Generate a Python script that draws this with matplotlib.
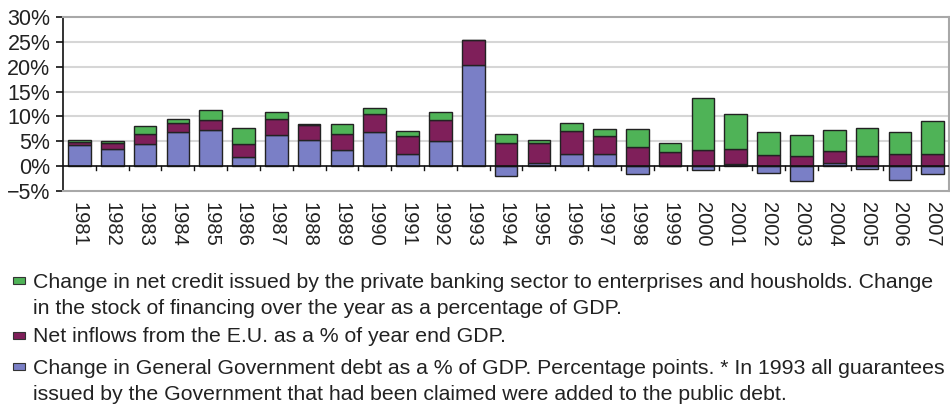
import numpy as np
import matplotlib.pyplot as plt
from matplotlib.patches import Rectangle

plt.rcParams['font.family'] = ['Liberation Sans', 'DejaVu Sans']

years = [str(y) for y in range(1981, 2008)]

# % of GDP, stacked: government debt (bottom), EU inflows, private credit (top)
gov_debt = [4.3, 3.5, 4.5, 6.9, 7.2, 1.9, 6.3, 5.3, 3.2, 6.9, 2.4, 5.1, 20.3,
            -2.0, 0.7, 2.4, 2.5, -1.5, 0.1, -0.7, 0.4, -1.3, -2.9, 0.7, -0.5, -2.7, -1.5]
eu_inflows = [0.6, 1.2, 2.0, 1.7, 2.0, 2.5, 3.2, 2.9, 3.3, 3.5, 3.7, 4.2, 5.1,
              4.6, 4.0, 4.7, 3.6, 3.9, 2.8, 3.3, 3.0, 2.3, 2.1, 2.3, 2.1, 2.5, 2.5]
private_credit = [0.4, 0.4, 1.5, 0.9, 2.1, 3.3, 1.3, 0.3, 1.9, 1.3, 0.9, 1.7, 0.0,
                  1.8, 0.6, 1.6, 1.4, 3.6, 1.8, 10.4, 7.1, 4.6, 4.1, 4.3, 5.6, 4.3, 6.6]

legend_lines = [
    ["Change in net credit issued by the private banking sector to enterprises and housholds. Change",
     "in the stock of financing over the year as a percentage of GDP."],
    ["Net inflows from the E.U. as a % of year end GDP."],
    ["Change in General Government debt as a % of GDP. Percentage points. * In 1993 all guarantees",
     "issued by the Government that had been claimed were added to the public debt."],
]

c_green = '#4fb357'
c_purple = '#7f1f5a'
c_blue = '#7a7fc6'

gov = np.array(gov_debt)
eu = np.array(eu_inflows)
cred = np.array(private_credit)
x = np.arange(len(years))

fig = plt.figure(figsize=(9.5, 4.07), dpi=100)
ax = fig.add_axes([0.0663, 0.5307, 0.9327, 0.4273])

bar_kw = dict(width=0.69, edgecolor='#222222', linewidth=1.0, zorder=3)
pos_base = np.clip(gov, 0, None)
ax.bar(x, gov, color=c_blue, **bar_kw)
ax.bar(x, eu, bottom=pos_base, color=c_purple, **bar_kw)
ax.bar(x, cred, bottom=pos_base + eu, color=c_green, **bar_kw)

ax.set_xlim(-0.5, len(years) - 0.5)
ax.set_ylim(-5, 30)
ax.set_yticks(np.arange(-5, 31, 5))
ax.set_yticklabels([f'{v}%'.replace('-', '\u2212') for v in range(-5, 31, 5)],
                   fontsize=15.5, color='#222222')
for v in range(5, 30, 5):
    ax.axhline(v, color='#d6d6d6', linewidth=1.5, zorder=1)
ax.axhline(0, color='#111111', linewidth=1.2, zorder=4)

# year labels sit below the plot frame; boundary ticks hang from the zero line
ax.set_xticks(x)
ax.set_xticklabels(years, rotation=270, fontsize=14.5, va='top', ha='center',
                   color='#222222')
ax.tick_params(axis='x', length=0, pad=8)
for b in np.arange(0.5, len(years) - 1, 1.0):
    ax.plot([b, b], [0, -0.8], color='#111111', linewidth=1.0, zorder=4, clip_on=False)
ax.tick_params(axis='y', length=5, width=1.2, color='#111111', pad=4)

for side in ['top', 'right', 'bottom']:
    ax.spines[side].set_color('#a8a8a8')
    ax.spines[side].set_linewidth(1.5)
ax.spines['left'].set_color('#111111')
ax.spines['left'].set_linewidth(1.2)

# hand-laid legend below the chart, one text call per line
legend_colors = [c_green, c_purple, c_blue]
line_y = [[280, 307], [335], [366, 392]]
for col, lines, ys in zip(legend_colors, legend_lines, line_y):
    fy = 1 - ys[0] / 407
    fig.patches.append(Rectangle((13 / 950, fy - 3.5 / 407), 12 / 950, 7 / 407,
                                 transform=fig.transFigure, facecolor=col,
                                 edgecolor='#333333', linewidth=0.8))
    for txt, yp in zip(lines, ys):
        fig.text(33 / 950, 1 - yp / 407, txt, fontsize=15.3, va='center_baseline',
                 ha='left', color='#222222')

fig.savefig('out.png', dpi=100)
